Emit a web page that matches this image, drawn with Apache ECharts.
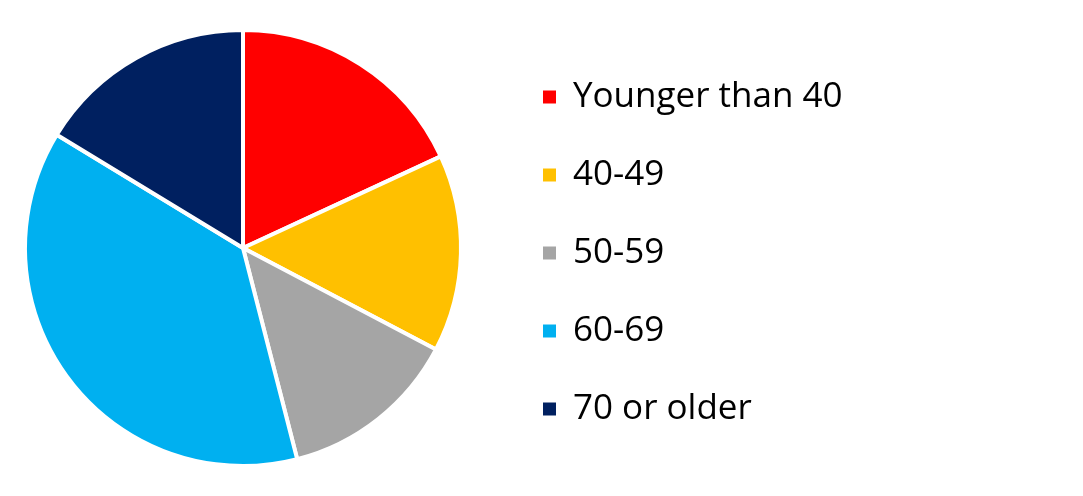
<!DOCTYPE html>
<html><head><meta charset="utf-8">
<script src="https://cdn.jsdelivr.net/npm/echarts@6/dist/echarts.min.js"></script>
<style>html,body{margin:0;padding:0;background:#fff}#c{width:1083px;height:496px}</style>
</head><body><div id="c"></div>
<script>
const categories = ['Younger than 40', '40-49', '50-59', '60-69', '70 or older'];
const values = [18.1, 14.6, 13.3, 37.7, 16.3];
const colors = ['#FF0000', '#FFC000', '#A5A5A5', '#00B0F0', '#002060'];

const chart = echarts.init(document.getElementById('c'));
chart.setOption({
  animation: false,
  color: colors,
  legend: {
    orient: 'vertical',
    left: 541,
    top: 77,
    padding: 0,
    icon: 'rect',
    itemWidth: 15,
    itemHeight: 15,
    itemGap: 38,
    textStyle: {
      fontFamily: '"Open Sans", "Noto Sans", sans-serif',
      fontSize: 35,
      color: '#000',
      lineHeight: 40,
      padding: [0, 0, 0, 11]
    },
    data: categories
  },
  series: [{
    type: 'pie',
    center: [243, 248],
    radius: 218,
    startAngle: 90,
    clockwise: true,
    label: { show: false },
    labelLine: { show: false },
    itemStyle: { borderColor: '#fff', borderWidth: 4 },
    emphasis: { disabled: true },
    data: categories.map((n, i) => ({ name: n, value: values[i] }))
  }]
});
</script></body></html>
